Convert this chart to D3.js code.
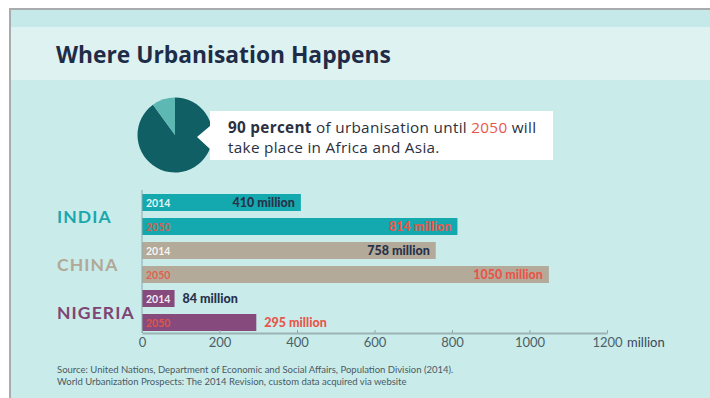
<!DOCTYPE html>
<html>
<head>
<meta charset="utf-8">
<script src="https://cdn.jsdelivr.net/npm/d3@7"></script>
<style>
  html, body { margin: 0; padding: 0; background: #ffffff; }
  svg { display: block; font-family: "Lato", "Open Sans", sans-serif; }
</style>
</head>
<body>
<svg id="chart" width="710" height="398"></svg>
<script>
// ---- data ----
const countries = ["INDIA", "CHINA", "NIGERIA"];
const years = ["2014", "2050"];
const values2014 = [410, 758, 84];
const values2050 = [814, 1050, 295];
const axisTicks = [0, 200, 400, 600, 800, 1000, 1200];
const pieShares = [90, 10];
const titleText = "Where Urbanisation Happens";
const sourceLines = [
  "Source: United Nations, Department of Economic and Social Affairs, Population Division (2014).",
  "World Urbanization Prospects: The 2014 Revision, custom data acquired via website"
];

// ---- styling ----
const countryColors = { INDIA: "#14a9ae", CHINA: "#b3aa99", NIGERIA: "#874a7c" };
const countryLabelColors = { INDIA: "#1ba7ac", CHINA: "#b2a896", NIGERIA: "#7e4474" };
const red = "#e8564a";
const navy = "#27324a";
const wideFont = "'Open Sans', sans-serif";

const svg = d3.select("#chart");

// panel background bands
svg.append("rect").attr("x", 10).attr("y", 9).attr("width", 710).attr("height", 400)
  .attr("fill", "#c9ebea").attr("stroke", "#a8acac").attr("stroke-width", 2);
svg.append("rect").attr("x", 11).attr("y", 10).attr("width", 700).attr("height", 17)
  .attr("fill", "#c4e9e8");
svg.append("rect").attr("x", 11).attr("y", 27).attr("width", 700).attr("height", 53)
  .attr("fill", "#ddf2f1");

// title
svg.append("text").attr("x", 56).attr("y", 63)
  .style("font-family", wideFont)
  .attr("font-size", 22.8).attr("font-weight", 700).attr("fill", "#1f2c48")
  .text(titleText);

// ---- pie (d3.pie runs clockwise from 12 o'clock, so the small share ends just left of it) ----
const pieCx = 175, pieCy = 135, pieR = 37.5;
const pie = d3.pie().sort(null).value(d => d);
const arcs = pie(pieShares);
const arc = d3.arc().innerRadius(0).outerRadius(pieR);
const pieG = svg.append("g").attr("transform", `translate(${pieCx},${pieCy})`);
pieG.selectAll("path").data(arcs).join("path")
  .attr("d", arc)
  .attr("fill", (d, i) => i === 0 ? "#0f5f64" : "#5db7b2");

// callout box with pointer
svg.append("path")
  .attr("d", "M210,111 L553,111 L553,160 L210,160 L210,149 L197,137 L210,126 Z")
  .attr("fill", "#ffffff");

const callout = svg.append("text")
  .style("font-family", wideFont)
  .attr("font-size", 15.3).attr("letter-spacing", 0.3).attr("fill", "#2b3040");
const l1 = callout.append("tspan").attr("x", 228).attr("y", 133);
l1.append("tspan").attr("font-weight", 700).text("90 percent");
l1.append("tspan").text(" of urbanisation until ");
l1.append("tspan").attr("fill", red).text("2050");
l1.append("tspan").text(" will");
callout.append("tspan").attr("x", 228).attr("y", 153).text("take place in Africa and Asia.");

// ---- bars ----
const rows = [];
countries.forEach((c, i) => {
  rows.push({ country: c, year: years[0], value: values2014[i] });
  rows.push({ country: c, year: years[1], value: values2050[i] });
});

const x = d3.scaleLinear().domain([0, 1200]).range([142, 607]);
const y = d3.scaleBand()
  .domain(rows.map(d => d.country + "-" + d.year))
  .range([190.5, 334.5])
  .paddingInner(7 / 24)
  .paddingOuter(3.5 / 24);

const barG = svg.append("g");
barG.selectAll("rect").data(rows).join("rect")
  .attr("x", x(0))
  .attr("y", d => y(d.country + "-" + d.year))
  .attr("width", d => x(d.value) - x(0))
  .attr("height", y.bandwidth())
  .attr("fill", d => countryColors[d.country]);

// year tags inside bars
barG.selectAll("text.year").data(rows).join("text")
  .attr("class", "year")
  .attr("x", x(0) + 4)
  .attr("y", d => y(d.country + "-" + d.year) + y.bandwidth() / 2 + 4)
  .attr("font-size", 10.5).attr("font-weight", 700)
  .attr("fill", d => d.year === "2014" ? "#ffffff" : red)
  .attr("fill-opacity", 0.9)
  .text(d => d.year);

// value labels: inside the bar end when long enough, else just past it
const insideMin = 400;
barG.selectAll("text.val").data(rows).join("text")
  .attr("class", "val")
  .attr("x", d => d.value >= insideMin ? x(d.value) - 6 : x(d.value) + 8)
  .attr("y", d => y(d.country + "-" + d.year) + y.bandwidth() / 2 + 4.5)
  .attr("text-anchor", d => d.value >= insideMin ? "end" : "start")
  .attr("font-size", 12.5).attr("font-weight", 900)
  .attr("fill", d => d.year === "2014" ? navy : red)
  .text(d => d.value + " million");

// country labels
svg.selectAll("text.country").data(countries).join("text")
  .attr("class", "country")
  .attr("x", 57)
  .attr("y", c => y(c + "-2014") + y.step() + 5)
  .attr("font-size", 17.5).attr("font-weight", 700)
  .attr("letter-spacing", 1.1)
  .attr("fill", c => countryLabelColors[c])
  .text(c => c);

// ---- axes ----
svg.append("line")
  .attr("x1", x(0)).attr("x2", x(0)).attr("y1", 190).attr("y2", 333)
  .attr("stroke", "#8fa9ab").attr("stroke-width", 1);

const axis = d3.axisBottom(x).tickValues(axisTicks).tickSize(0).tickPadding(6)
  .tickFormat(d3.format("d"));
const axisG = svg.append("g").attr("transform", "translate(0,333)").call(axis);
axisG.select(".domain").attr("stroke", "#9bb3b4").attr("stroke-width", 2);
axisG.attr("font-family", null).attr("font-size", null);
axisG.selectAll(".tick text")
  .attr("font-size", 13)
  .attr("fill", "#4b6168").attr("dy", "0.6em");
axisG.selectAll(".tick").append("line")
  .attr("y1", -3).attr("y2", 0).attr("stroke", "#8fa9ab");

svg.append("text").attr("x", 627).attr("y", 347)
  .attr("font-size", 13).attr("fill", "#3a4658").text("million");

// source note
svg.selectAll("text.src").data(sourceLines).join("text")
  .attr("class", "src")
  .attr("x", 57).attr("y", (d, i) => 373 + i * 12)
  .attr("font-size", 9.5).attr("fill", "#4b5a64")
  .text(d => d);
</script>
</body>
</html>
